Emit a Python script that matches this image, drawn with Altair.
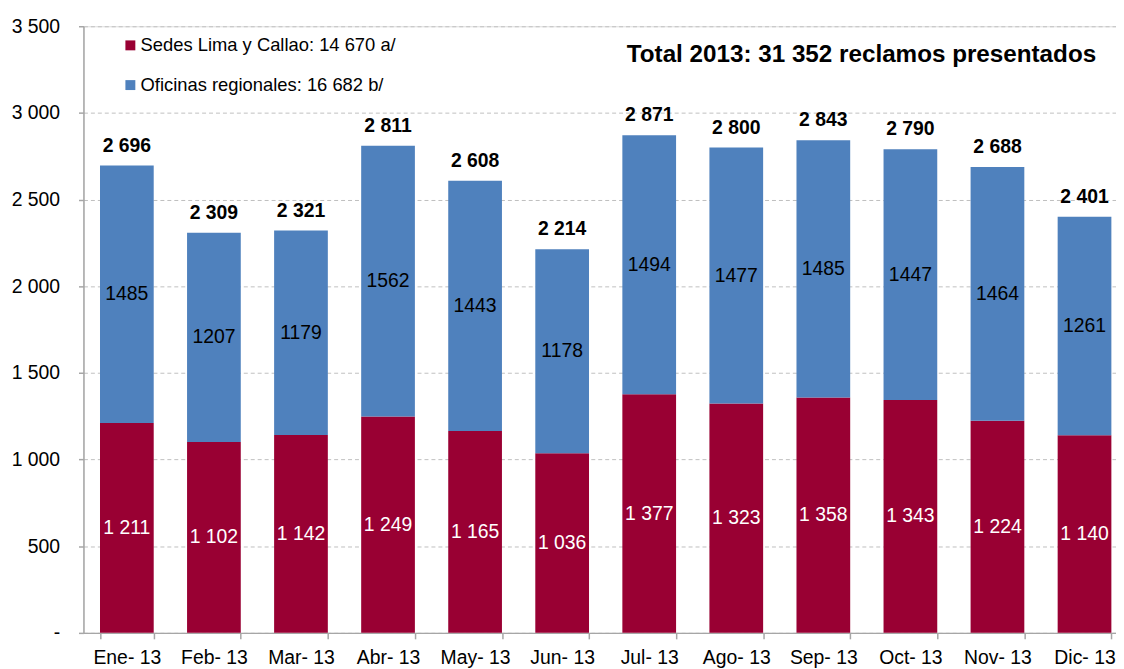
import altair as alt
import pandas as pd

FONT = "Liberation Sans"

months = ["Ene- 13", "Feb- 13", "Mar- 13", "Abr- 13", "May- 13", "Jun- 13",
          "Jul- 13", "Ago- 13", "Sep- 13", "Oct- 13", "Nov- 13", "Dic- 13"]
sedes = [1211, 1102, 1142, 1249, 1165, 1036, 1377, 1323, 1358, 1343, 1224, 1140]
oficinas = [1485, 1207, 1179, 1562, 1443, 1178, 1494, 1477, 1485, 1447, 1464, 1261]
totales = [2696, 2309, 2321, 2811, 2608, 2214, 2871, 2800, 2843, 2790, 2688, 2401]
series = ["Sedes Lima y Callao: 14 670 a/", "Oficinas regionales: 16 682 b/"]
colors = ["#990033", "#4F81BD"]
y_ticks = [0, 500, 1000, 1500, 2000, 2500, 3000, 3500]
title_text = "Total 2013: 31 352 reclamos presentados"


def fmt(v):
    return f"{v:,}".replace(",", " ")


wide = pd.DataFrame({"mes": months, "sedes": sedes, "oficinas": oficinas, "total": totales})
wide["sedes_lbl"] = [fmt(v) for v in sedes]
wide["ofi_lbl"] = [str(v) for v in oficinas]
wide["total_lbl"] = [fmt(v) for v in totales]

long = pd.DataFrame({
    "mes": months * 2,
    "serie": [series[0]] * 12 + [series[1]] * 12,
    "valor": sedes + oficinas,
    "orden": [0] * 12 + [1] * 12,
})

x_enc = alt.X(
    "mes:N", sort=months, title=None,
    scale=alt.Scale(range=[0, 1052], paddingInner=0.383, paddingOuter=0.19),
    axis=alt.Axis(labelAngle=0, tickBand="extent", grid=False, domainColor="#a6a6a6",
                  domainWidth=1.5, tickColor="#a6a6a6", tickWidth=1.5, tickSize=6,
                  labelPadding=10, labelFontSize=19.5, labelFont=FONT, labelColor="black"),
)

y_scale = alt.Scale(domain=[0, 3500], nice=False, zero=True)
y_axis = alt.Axis(values=y_ticks, grid=True, gridColor="#c0c0c0", gridDash=[4, 3], gridWidth=1,
                  domainColor="#a6a6a6", domainWidth=1.5, tickColor="#a6a6a6", tickWidth=1.5,
                  tickSize=5, labelPadding=19, labelFontSize=19.5, labelFont=FONT,
                  labelColor="black", title=None,
                  labelExpr="datum.value == 0 ? '-' : replace(format(datum.value, ','), ',', ' ')")

bars = alt.Chart(long).mark_bar().encode(
    x=x_enc,
    y=alt.Y("valor:Q", stack="zero", scale=y_scale, axis=y_axis),
    color=alt.Color("serie:N", scale=alt.Scale(domain=series, range=colors),
                    legend=alt.Legend(orient="none", legendX=38, legendY=10, direction="vertical",
                                      title=None, symbolType="square", symbolSize=100,
                                      symbolStrokeWidth=0, labelFontSize=18.5, labelFont=FONT,
                                      labelColor="black", labelOffset=1, rowPadding=21,
                                      padding=0, labelLimit=400)),
    order=alt.Order("orden:Q", sort="ascending"),
)

red_lbl = alt.Chart(wide).transform_calculate(pos="datum.sedes / 2").mark_text(
    font=FONT, fontSize=19.5, color="white", baseline="middle"
).encode(x=x_enc, y=alt.Y("pos:Q", scale=y_scale, axis=y_axis), text="sedes_lbl:N")

blue_lbl = alt.Chart(wide).transform_calculate(pos="datum.sedes + datum.oficinas / 2").mark_text(
    font=FONT, fontSize=19.5, color="black", baseline="middle"
).encode(x=x_enc, y=alt.Y("pos:Q", scale=y_scale, axis=y_axis), text="ofi_lbl:N")

tot_lbl = alt.Chart(wide).mark_text(
    font=FONT, fontSize=19.5, fontWeight="bold", color="black", baseline="alphabetic", dy=-14
).encode(x=x_enc, y=alt.Y("total:Q", scale=y_scale, axis=y_axis), text="total_lbl:N")

chart = alt.layer(bars, red_lbl, blue_lbl, tot_lbl).properties(
    width=1040, height=611,
    padding={"left": 76, "top": 16, "right": 0, "bottom": 34},
    autosize=alt.AutoSizeParams(type="none"),
    title=alt.TitleParams(text=title_text, anchor="end", frame="group", orient="top",
                          fontSize=24.4, font=FONT, fontWeight="bold", color="black",
                          baseline="alphabetic", dx=-20, dy=70, offset=0),
).configure_view(stroke=None).configure(background="white")

chart.save("out.html", embed_options={"renderer": "svg", "actions": False})
